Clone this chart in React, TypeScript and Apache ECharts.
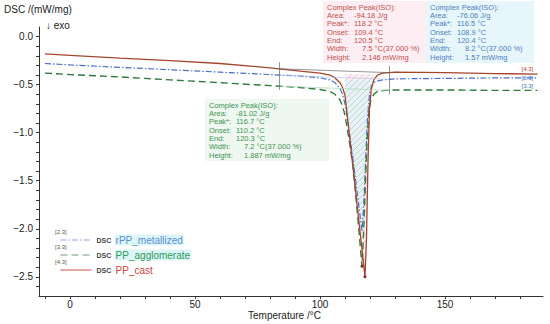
import React, { useEffect, useRef } from "react";
import * as echarts from "echarts";

// ---- data ----
const castT = [-10, 0, 20, 40, 60, 80, 92, 100, 104, 106, 108, 109, 110, 112, 114, 116, 118, 118.6, 119.2, 119.8, 120.5, 121.5, 123, 125, 130, 150, 170, 187];
const castV = [-0.18, -0.195, -0.225, -0.25, -0.28, -0.325, -0.36, -0.38, -0.4, -0.43, -0.48, -0.53, -0.61, -1.08, -1.55, -2.03, -2.5, -2.1, -1.3, -0.75, -0.55, -0.45, -0.4, -0.38, -0.37, -0.375, -0.385, -0.39];

const metT = [-10, 0, 20, 40, 60, 80, 92, 100, 104, 106, 108, 109, 110, 111.5, 113.2, 115, 116.8, 117.6, 118.4, 119, 119.8, 120.5, 122, 125, 130, 150, 170, 187];
const metV = [-0.28, -0.295, -0.32, -0.345, -0.37, -0.395, -0.41, -0.43, -0.45, -0.48, -0.54, -0.6, -0.7, -0.95, -1.28, -1.65, -2.03, -1.7, -1.2, -0.85, -0.6, -0.52, -0.47, -0.45, -0.44, -0.435, -0.43, -0.43];

const aggT = [-10, 0, 20, 40, 60, 80, 92, 100, 104, 106, 108, 109, 110, 111.5, 113.2, 115, 116.8, 117.5, 118.2, 118.8, 119.5, 120.3, 121.5, 123, 126, 130, 150, 170, 187];
const aggV = [-0.38, -0.395, -0.42, -0.45, -0.48, -0.51, -0.53, -0.55, -0.57, -0.6, -0.66, -0.72, -0.82, -1.05, -1.35, -1.85, -2.39, -2.0, -1.5, -1.1, -0.8, -0.66, -0.6, -0.57, -0.56, -0.555, -0.555, -0.56, -0.56];

const seriesNames = ["rPP_metallized", "PP_agglomerate", "PP_cast"];
const seriesTags = ["[2.3]", "[3.3]", "[4.3]"];

const xLabelValues = [0, 50, 100, 150];
const xTickValues = [-10, 0, 10, 20, 30, 40, 50, 60, 70, 80, 90, 100, 110, 120, 130, 140, 150, 160, 170, 180];
const yLabelValues = [0, -0.5, -1, -1.5, -2, -2.5];
const yTickValues = [0, -0.1, -0.2, -0.3, -0.4, -0.5, -0.6, -0.7, -0.8, -0.9, -1, -1.1, -1.2, -1.3, -1.4, -1.5, -1.6, -1.7, -1.8, -1.9, -2, -2.1, -2.2, -2.3, -2.4, -2.5, -2.6];

// integration limits and baselines (start, end) per series
const integLimits = [83.6, 127.6];
const castBase = [-0.335, -0.375];
const metBase = [-0.4, -0.445];
const aggBase = [-0.515, -0.56];
// peak fill range
const peakRange = [109.5, 122];

// evaluation results
const peakLabels = ["Complex Peak(ISO):", "Area:", "Peak*:", "Onset:", "End:", "Width:", "Height:"];
const castResult = ["", "-94.18 J/g", "118.2 °C", "109.4 °C", "120.5 °C", "7.5 °C(37.000 %)", "2.146 mW/mg"];
const metResult = ["", "-76.06 J/g", "116.5 °C", "108.9 °C", "120.4 °C", "8.2 °C(37.000 %)", "1.57 mW/mg"];
const aggResult = ["", "-81.02 J/g", "116.7 °C", "110.2 °C", "120.3 °C", "7.2 °C(37.000 %)", "1.887 mW/mg"];

const FONT = "Liberation Sans, Arial, sans-serif";

function zip(t: number[], v: number[]) {
  return t.map((x, i) => [x, v[i]]);
}

function hatch(bg: string, line: string) {
  const c = document.createElement("canvas");
  c.width = 6;
  c.height = 6;
  const g = c.getContext("2d")!;
  g.fillStyle = bg;
  g.fillRect(0, 0, 6, 6);
  g.strokeStyle = line;
  g.lineWidth = 0.8;
  g.beginPath();
  g.moveTo(0, 6);
  g.lineTo(6, 0);
  g.moveTo(-1, 1);
  g.lineTo(1, -1);
  g.moveTo(5, 7);
  g.lineTo(7, 5);
  g.stroke();
  return { image: c, repeat: "repeat" } as any;
}

function peakBox(x0: number, y0: number, w: number, h: number, color: string, bg: string, vals: string[]) {
  const children: any[] = [
    { type: "rect", shape: { x: x0 - 4, y: y0 - 6, width: w, height: h }, style: { fill: bg } },
  ];
  peakLabels.forEach((lab, i) => {
    const y = y0 + i * 8.35;
    children.push({
      type: "text",
      x: x0,
      y,
      style: { text: lab, fill: color, font: `7.5px ${FONT}`, textVerticalAlign: "middle" },
    });
    if (vals[i]) {
      children.push({
        type: "text",
        x: x0 + (i >= 5 ? 35 : 27),
        y,
        style: { text: vals[i], fill: color, font: `7.5px ${FONT}`, textVerticalAlign: "middle" },
      });
    }
  });
  return { type: "group", children };
}

export default function App() {
  const ref = useRef<HTMLDivElement>(null);
  useEffect(() => {
    if (!ref.current) return;
    document.body.style.margin = "0";
    const chart = echarts.init(ref.current, undefined, { renderer: "svg" });

    const colors = { met: "#4a6fc4", agg: "#2f7a3c", cast: "#a5452f" };
    const legendColors = ["#5b8fd6", "#2f9a5a", "#d0453f"];
    const legendLine = ["#8aa6dc", "#6a9f78", "#c8574d"];

    const inRange = (t: number[], v: number[]) =>
      zip(t, v).filter((p) => p[0] >= peakRange[0] && p[0] <= peakRange[1]);

    const baseMark = (base: number[], color: string) => ({
      silent: true,
      symbol: "none",
      label: { show: false },
      lineStyle: { color, width: 0.7, type: "solid" },
      data: [[{ coord: [integLimits[0], base[0]] }, { coord: [integLimits[1], base[1]] }]],
    });

    const option: any = {
      animation: false,
      backgroundColor: "#fff",
      textStyle: { fontFamily: FONT },
      grid: { left: 39, right: 7, top: 27, bottom: 28, containLabel: false },
      xAxis: {
        type: "value",
        min: -12.4,
        max: 189.2,
        axisLine: { show: true, onZero: false, lineStyle: { color: "#333", width: 1 } },
        axisTick: { show: true, length: 3, customValues: xTickValues, lineStyle: { color: "#333" } },
        axisLabel: { customValues: xLabelValues, fontSize: 10, color: "#222", margin: 3, fontFamily: FONT },
        splitLine: { show: false },
      },
      yAxis: {
        type: "value",
        min: -2.7,
        max: 0.1,
        axisLine: { show: true, onZero: false, lineStyle: { color: "#333", width: 1 } },
        axisTick: { show: true, length: 3, customValues: yTickValues, lineStyle: { color: "#333" } },
        axisLabel: {
          customValues: yLabelValues,
          fontSize: 10,
          color: "#222",
          margin: 6,
          fontFamily: FONT,
          formatter: (v: number) => (v === 0 ? "0.0" : "\u2212" + Math.abs(v).toFixed(1)),
        },
        splitLine: { show: false },
      },
      legend: seriesNames.map((name, i) => ({
        data: [name],
        orient: "vertical",
        left: 55,
        top: 229 + i * 15,
        itemWidth: 31,
        itemHeight: 10,
        selectedMode: false,
        formatter: (n: string) => `{d|DSC} {n|${n}}`,
        lineStyle: { color: legendLine[i], width: 1 },
        itemStyle: { opacity: 0, borderWidth: 0 },
        textStyle: {
          rich: {
            d: { fontSize: 7, color: "#444", fontFamily: FONT, fontWeight: "bold" },
            n: {
              fontSize: 10,
              color: legendColors[i],
              fontFamily: FONT,
              backgroundColor: i < 2 ? "#dcf5f7" : "transparent",
              padding: [1, 1, 0, 1],
            },
          },
        },
      })),
      series: [
        {
          name: seriesNames[0],
          type: "line",
          data: zip(metT, metV),
          showSymbol: false,
          symbol: "none",
          color: colors.met,
          lineStyle: { color: colors.met, width: 1.2, type: [6, 2, 1.5, 2] },
          endLabel: { show: true, formatter: seriesTags[0], fontSize: 6, color: colors.met, offset: [-24, 0] },
          markLine: baseMark(metBase, "#b5c6ec"),
          z: 3,
        },
        {
          name: seriesNames[1],
          type: "line",
          data: zip(aggT, aggV),
          showSymbol: false,
          symbol: "none",
          color: colors.agg,
          lineStyle: { color: colors.agg, width: 1.4, type: [7, 4] },
          endLabel: { show: true, formatter: seriesTags[1], fontSize: 6, color: "#3a6fb0", offset: [-24, -4] },
          markLine: baseMark(aggBase, "#a8d3b4"),
          markPoint: {
            symbol: "circle",
            symbolSize: 3,
            itemStyle: { color: "#7a2a1f" },
            label: { show: false },
            data: [{ type: "min", valueDim: "y" }],
          },
          z: 3,
        },
        {
          name: seriesNames[2],
          type: "line",
          data: zip(castT, castV),
          showSymbol: false,
          symbol: "none",
          color: colors.cast,
          lineStyle: { color: colors.cast, width: 1.3 },
          endLabel: { show: true, formatter: seriesTags[2], fontSize: 6, color: colors.cast, offset: [-24, -5] },
          markLine: {
            silent: true,
            symbol: "none",
            label: { show: false },
            lineStyle: { color: "#666", width: 0.7, type: "solid" },
            data: [
              [{ coord: [integLimits[0], castBase[0] + 0.07] }, { coord: [integLimits[0], aggBase[0] - 0.04] }],
              [{ coord: [integLimits[1], castBase[1] + 0.07] }, { coord: [integLimits[1], aggBase[1] - 0.04] }],
              [{ coord: [integLimits[0], castBase[0]] }, { coord: [integLimits[1], castBase[1]] }],
            ],
          },
          markPoint: {
            symbol: "circle",
            symbolSize: 3,
            itemStyle: { color: "#7a2a1f" },
            label: { show: false },
            data: [{ type: "min", valueDim: "y" }],
          },
          z: 4,
        },
        {
          type: "line",
          name: "fill-cast",
          data: inRange(castT, castV),
          showSymbol: false,
          symbol: "none",
          silent: true,
          lineStyle: { width: 0 },
          areaStyle: { origin: -0.39, color: hatch("rgba(253,228,236,0.9)", "rgba(190,170,175,0.8)") },
          z: 1,
        },
        {
          type: "line",
          name: "fill-met",
          data: inRange(metT, metV),
          showSymbol: false,
          symbol: "none",
          silent: true,
          lineStyle: { width: 0 },
          areaStyle: { origin: -0.45, color: hatch("rgba(220,245,245,0.9)", "rgba(150,200,200,0.8)") },
          z: 2,
        },
      ],
      graphic: [
        { type: "text", left: 4, top: 4, style: { text: "DSC /(mW/mg)", fill: "#222", font: `10px ${FONT}` } },
        { type: "text", left: 46, top: 20, style: { text: "\u2193 exo", fill: "#222", font: `10px ${FONT}` } },
        { type: "text", left: 248, top: 310, style: { text: "Temperature /°C", fill: "#222", font: `10px ${FONT}` } },
        ...seriesTags.map((t, i) => ({
          type: "text",
          left: 55,
          top: 229 + i * 14.8,
          style: { text: t, fill: "#555", font: `6px ${FONT}` },
        })),
        peakBox(327, 7, 104, 62, "#c0504d", "#fdeef3", castResult),
        peakBox(430, 7, 108, 62, "#4f81bd", "#e6f6fb", metResult),
        peakBox(209, 105, 124, 62, "#3f9254", "#eef8f0", aggResult),
      ],
    };
    chart.setOption(option);
    return () => chart.dispose();
  }, []);
  return <div ref={ref} style={{ width: 550, height: 324 }} />;
}
